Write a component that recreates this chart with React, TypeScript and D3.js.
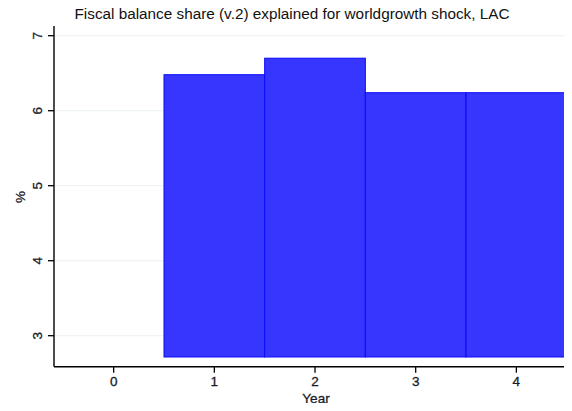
import React from "react";
import * as d3 from "d3";

const years = [1, 2, 3, 4];
const values = [6.48, 6.7, 6.24, 6.24];
const yTicks = [3, 4, 5, 6, 7];
const xTicks = [0, 1, 2, 3, 4];
const barBase = 2.716;
const title = "Fiscal balance share (v.2) explained for worldgrowth shock, LAC";

export default function App() {
  const W = 572, H = 411;
  const left = 54, right = 571, top = 26, bottom = 366.7;
  const x = d3.scaleLinear().domain([0.5, 4.5]).range([164, 566.7]);
  const y = d3.scaleLinear().domain([3, 7]).range([335.7, 35.7]);
  const font = "'Liberation Sans', Arial, sans-serif";
  const tc = "#1a1a2a";
  return (
    <svg width={W} height={H} style={{ display: "block", margin: "-8px" }} fontFamily={font}>
      <rect width={W} height={H} fill="#fff" />
      <text x={292} y={18.5} textAnchor="middle" fontSize={15.3} fill="#111">{title}</text>
      {yTicks.map((t) => (
        <line key={"g" + t} x1={left} x2={right} y1={y(t)} y2={y(t)} stroke="#eaf2f3" strokeWidth={1} />
      ))}
      {years.map((yr, i) => (
        <rect key={yr} x={x(yr - 0.5)} y={y(values[i])} width={x(yr + 0.5) - x(yr - 0.5)}
          height={y(barBase) - y(values[i])} fill="#3636ff" stroke="#0a0aff" strokeWidth={1} />
      ))}
      <line x1={left} x2={left} y1={top} y2={bottom} stroke="#000" strokeWidth={1.4} />
      <line x1={left} x2={right} y1={bottom} y2={bottom} stroke="#000" strokeWidth={1.4} />
      {yTicks.map((t) => (
        <g key={"y" + t}>
          <line x1={left - 6} x2={left} y1={y(t)} y2={y(t)} stroke="#000" strokeWidth={1.3} />
          <text transform={`translate(${left - 12.5},${y(t)}) rotate(-90)`} textAnchor="middle" fontSize={13.5}
            fill={tc} stroke={tc} strokeWidth={0.3}>{t}</text>
        </g>
      ))}
      {xTicks.map((t) => (
        <g key={"x" + t}>
          <line x1={x(t)} x2={x(t)} y1={bottom} y2={bottom + 6} stroke="#000" strokeWidth={1.3} />
          <text x={x(t)} y={bottom + 19.5} textAnchor="middle" fontSize={13.5}
            fill={tc} stroke={tc} strokeWidth={0.3}>{t}</text>
        </g>
      ))}
      <text x={316} y={403} textAnchor="middle" fontSize={13.5} fill={tc} stroke={tc} strokeWidth={0.3}>Year</text>
      <text transform={`translate(25,${197}) rotate(-90)`} textAnchor="middle" fontSize={13.5}
        fill={tc} stroke={tc} strokeWidth={0.3}>%</text>
    </svg>
  );
}
